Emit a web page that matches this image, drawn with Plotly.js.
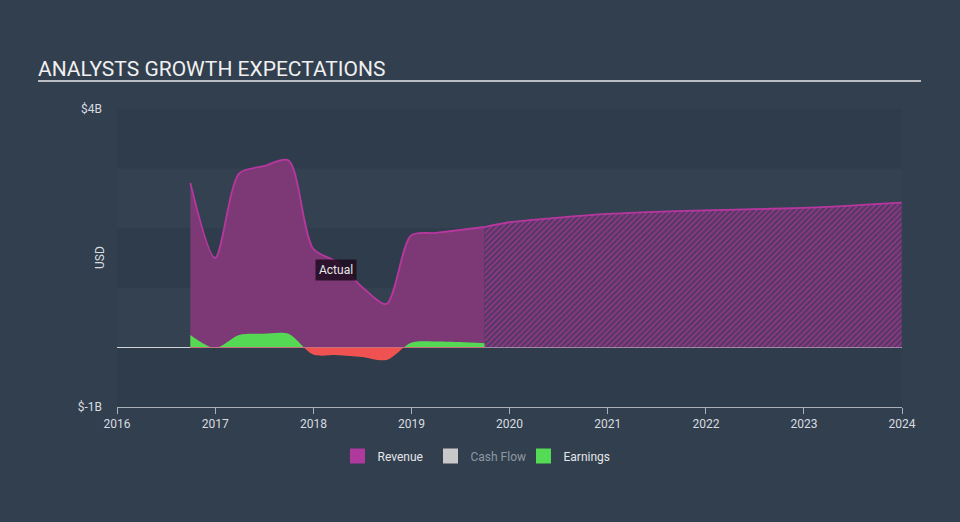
<!DOCTYPE html>
<html>
<head>
<meta charset="utf-8">
<script src="https://cdn.plot.ly/plotly-3.0.1.min.js"></script>
<style>
  html, body { margin: 0; padding: 0; background: #323f4e; }
  #chart { width: 960px; height: 522px; }
</style>
</head>
<body>
<div id="chart"></div>
<script>
// ---- data (USD billions) ----
const actualDates = ['2016-09-30','2016-12-31','2017-03-31','2017-06-30','2017-09-30','2017-12-31',
                     '2018-03-31','2018-06-30','2018-09-30','2018-12-31','2019-03-31','2019-06-30','2019-09-30'];
const revenueActual = [2.76, 1.50, 2.92, 3.04, 3.14, 1.66, 1.43, 1.02, 0.73, 1.88, 1.92, 1.97, 2.02];
const earningsActual = [0.21, -0.01, 0.21, 0.23, 0.23, -0.12, -0.13, -0.16, -0.21, 0.08, 0.10, 0.09, 0.07];
const forecastDates = ['2019-09-30','2019-12-31','2020-12-31','2021-12-31','2022-12-31','2023-12-31'];
const revenueForecast = [2.02, 2.10, 2.24, 2.30, 2.34, 2.43];
const yTickVals = [-1, 4];
const yTickText = ['$-1B', '$4B'];
const xTickVals = ['2016-01-01','2017-01-01','2018-01-01','2019-01-01','2020-01-01','2021-01-01','2022-01-01','2023-01-01','2024-01-01'];
const xTickText = ['2016','2017','2018','2019','2020','2021','2022','2023','2024'];
const actualLabel = {x: '2018-03-25', y: 1.30, text: 'Actual'};
const bandEdges = [-1, 0, 1, 2, 3, 4];

const B = v => v.map(d => d * 1e9);

const traces = [
  {
    x: actualDates, y: B(revenueActual), type: 'scatter', mode: 'lines',
    line: {shape: 'spline', smoothing: 0.8, color: '#b8379f', width: 1.8},
    fill: 'tozeroy', fillcolor: 'rgba(124,57,118,1)',
    showlegend: false, hoverinfo: 'skip'
  },
  {
    x: forecastDates, y: B(revenueForecast), type: 'scatter', mode: 'lines',
    line: {shape: 'spline', smoothing: 0.6, color: '#b8379f', width: 1.8},
    fill: 'tozeroy',
    fillpattern: {shape: '/', fgcolor: '#8f3589', bgcolor: '#4c3a5c', size: 4, solidity: 0.5},
    showlegend: false, hoverinfo: 'skip'
  },
  {
    x: actualDates, y: B(earningsActual), type: 'scatter', mode: 'lines',
    line: {shape: 'spline', smoothing: 0.8, color: 'rgba(0,0,0,0)', width: 0},
    fill: 'tozeroy',
    fillgradient: {type: 'vertical', start: -1e9, stop: 1e9,
      colorscale: [[0, '#f05252'], [0.5, '#f05252'], [0.5, '#55d955'], [1, '#55d955']]},
    showlegend: false, hoverinfo: 'skip'
  },
  // legend entries
  {x: [null], y: [null], type: 'scatter', mode: 'markers', name: 'Revenue',
   marker: {symbol: 'square', size: 15, color: '#b0399e'}},
  {x: [null], y: [null], type: 'scatter', mode: 'markers', name: '<span style="color:#8e98a3">Cash Flow</span>',
   marker: {symbol: 'square', size: 15, color: '#c9c9c9'}},
  {x: [null], y: [null], type: 'scatter', mode: 'markers', name: 'Earnings',
   marker: {symbol: 'square', size: 15, color: '#55da55'}}
];

const shapes = [];
for (let i = 0; i < bandEdges.length - 1; i++) {
  if (i % 2 === 0) {
    shapes.push({type: 'rect', xref: 'paper', yref: 'y', x0: 0, x1: 1,
      y0: bandEdges[i] * 1e9, y1: bandEdges[i + 1] * 1e9,
      fillcolor: '#2f3c4b', line: {width: 0}, layer: 'below'});
  }
}
// title underline
shapes.push({type: 'line', xref: 'paper', yref: 'paper',
  x0: (38 - 117) / 785, x1: (921 - 117) / 785, y0: (407 - 81) / 298, y1: (407 - 81) / 298,
  line: {color: '#b9bec4', width: 2}});

const layout = {
  width: 960, height: 522,
  margin: {l: 117, r: 58, t: 109, b: 115},
  paper_bgcolor: '#323f4e', plot_bgcolor: '#334150',
  font: {family: 'Roboto, "Open Sans", sans-serif', color: '#d8dce0', size: 12},
  title: {text: 'ANALYSTS GROWTH EXPECTATIONS', xref: 'container', yref: 'container',
    x: 38 / 960, xanchor: 'left', y: 1 - 69 / 522, yanchor: 'middle',
    font: {family: 'Roboto, sans-serif', size: 21, color: '#f0f0f0'}},
  xaxis: {
    type: 'date', range: ['2016-01-01', '2024-01-01'],
    tickvals: xTickVals, ticktext: xTickText,
    showgrid: false, zeroline: false,
    showline: true, linecolor: '#a9b0b8', linewidth: 1,
    ticks: 'outside', ticklen: 6, tickcolor: '#a9b0b8',
    tickfont: {size: 12, color: '#d8dce0'}, fixedrange: true
  },
  yaxis: {
    range: [-1e9, 4e9], tickvals: yTickVals.map(v => v * 1e9), ticktext: yTickText,
    showgrid: false, zeroline: true, zerolinecolor: '#d0d4d8', zerolinewidth: 1.5,
    showline: false, ticks: '', ticklabelstandoff: 14,
    tickfont: {size: 12, color: '#d8dce0'}, fixedrange: true
  },
  legend: {orientation: 'h', xref: 'container', yref: 'container',
    x: 477 / 960, xanchor: 'center', y: 1 - 456 / 522, yanchor: 'middle',
    font: {size: 12, color: '#e4e6e8'}, itemwidth: 30, entrywidth: 48, bgcolor: 'rgba(0,0,0,0)'},
  shapes: shapes,
  annotations: [
    {x: actualLabel.x, y: actualLabel.y * 1e9, xref: 'x', yref: 'y', text: actualLabel.text,
     showarrow: false, bgcolor: 'rgba(30,12,32,0.85)', borderpad: 3,
     font: {size: 12, color: '#e8e8e8'}},
    {xref: 'paper', yref: 'paper', x: (100 - 117) / 785, y: (407 - 258) / 298, text: 'USD',
     textangle: -90, showarrow: false, xanchor: 'center', yanchor: 'middle',
     font: {size: 12, color: '#d8dce0'}}
  ]
};

Plotly.newPlot('chart', traces, layout, {displayModeBar: false, staticPlot: true});
</script>
</body>
</html>
